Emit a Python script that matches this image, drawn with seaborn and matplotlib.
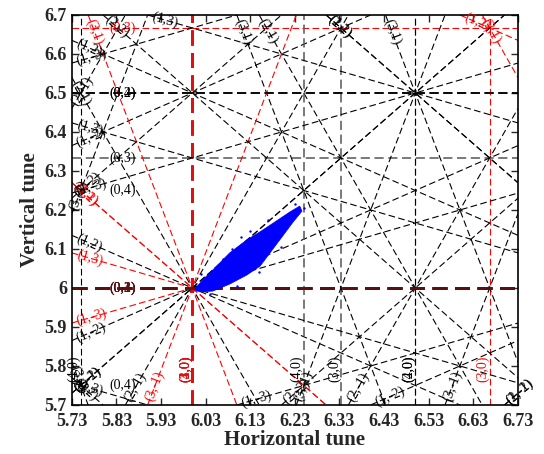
import math
import matplotlib
matplotlib.use('Agg')
import matplotlib.pyplot as plt
import seaborn as sns

# axis ranges and ticks
qx_range = [5.73, 6.73]
qy_range = [5.7, 6.7]
x_ticks = [5.73, 5.83, 5.93, 6.03, 6.13, 6.23, 6.33, 6.43, 6.53, 6.63, 6.73]
x_tick_labels = ['5.73', '5.83', '5.93', '6.03', '6.13', '6.23', '6.33', '6.43', '6.53', '6.63', '6.73']
y_ticks = [5.7, 5.8, 5.9, 6.0, 6.1, 6.2, 6.3, 6.4, 6.5, 6.6, 6.7]
y_tick_labels = ['5.7', '5.8', '5.9', '6', '6.1', '6.2', '6.3', '6.4', '6.5', '6.6', '6.7']

# resonance coefficients (m, n) for m*Qx + n*Qy = p, orders 1..4
res_m = [1, 0, 2, 0, 1, 1, 3, 0, 2, 2, 1, 1, 4, 3, 3, 2, 2, 1, 1, 0]
res_n = [0, 1, 0, 2, 1, -1, 0, 3, 1, -1, 2, -2, 0, 1, -1, 2, -2, 3, -3, 4]

# lines drawn in red (reduced m, n, p) and the Qx up to which they are red
red_m = [1, 3, 0, 1, 3, 3, 1, 1, 2, 1]
red_n = [0, 0, 3, 1, 1, -1, 3, -3, 1, 2]
red_p = [6, 20, 20, 12, 24, 12, 24, -12, 20, 20]
red_upto = [7, 7, 7, 7, 7, 7, 6.0, 6.0, 7, 7]

# grey lines
grey_m = [4, 3, 0]
grey_n = [0, 0, 3]
grey_p = [25, 19, 19]

# beam footprint outline
blob_qx = [6.010, 6.028, 6.046, 6.084, 6.122, 6.152, 6.185, 6.219, 6.241,
           6.246, 6.226, 6.196, 6.152, 6.122, 6.084, 6.046, 6.017, 6.006]
blob_qy = [6.003, 6.026, 6.046, 6.090, 6.123, 6.144, 6.169, 6.195, 6.210,
           6.197, 6.169, 6.123, 6.056, 6.033, 6.010, 5.992, 5.990, 5.995]
stray_qx = [6.02, 6.04, 6.07, 6.10, 6.13, 6.17, 6.20, 6.23, 6.06, 6.11, 6.15, 6.09, 6.25, 6.03]
stray_qy = [6.035, 5.985, 6.075, 6.005, 6.145, 6.175, 6.105, 6.215, 6.060, 6.130, 6.040, 6.100, 6.205, 6.015]

sns.set_theme(style='ticks')
plt.rcParams['font.family'] = ['Liberation Serif', 'DejaVu Serif']

fig = plt.figure(figsize=(5.44, 4.54), dpi=100)
ax = fig.add_axes([0.132, 0.108, 0.820, 0.859])

red_lines = {k: u for k, u in zip(zip(red_m, red_n, red_p), red_upto)}
grey_set = set(zip(grey_m, grey_n, grey_p))


def reduce(m, n, p):
    g = math.gcd(math.gcd(abs(m), abs(n)), abs(p))
    return (m // g, n // g, p // g)


def segment(m, n, p):
    pts = []
    eps = 1e-9
    if n != 0:
        for x in qx_range:
            y = (p - m * x) / n
            if qy_range[0] - eps <= y <= qy_range[1] + eps:
                pts.append((x, y))
    if m != 0:
        for y in qy_range:
            x = (p - n * y) / m
            if qx_range[0] - eps <= x <= qx_range[1] + eps:
                pts.append((x, y))
    pts = sorted(set((round(a, 9), round(b, 9)) for a, b in pts))
    if len(pts) < 2:
        return None
    return pts[0], pts[-1]


def style(key):
    color, lw = 'black', 0.8
    if key in grey_set:
        color, lw = '#555555', 1.1
    if key == (1, 0, 6):
        color, lw = '#dd1111', 1.8
    elif key == (0, 1, 6):
        color, lw = '#5a1010', 1.8
    elif key in red_lines:
        color = 'red'
    if key == (0, 2, 13):
        lw = 1.1
    return color, lw


for m, n in zip(res_m, res_n):
    corners = [m * x + n * y for x in qx_range for y in qy_range]
    for p in range(math.ceil(min(corners)), math.floor(max(corners)) + 1):
        seg = segment(m, n, p)
        if seg is None:
            continue
        key = reduce(m, n, p)
        color, lw = style(key)
        (x0, y0), (x1, y1) = seg
        label_only = (m == 0 and n == 4 and key != (0, 1, 6) and key != (0, 2, 13))
        if not label_only:
            upto = red_lines.get(key, 99)
            if key in red_lines and upto < x1:
                # red up to Qx = upto, black afterwards
                ys = (p - m * upto) / n
                ax.plot([x0, upto], [y0, ys], color='red', lw=lw, dashes=(6, 3), zorder=2)
                ax.plot([upto, x1], [ys, y1], color='black', lw=lw, dashes=(6, 3), zorder=2)
            else:
                ax.plot([x0, x1], [y0, y1], color=color, lw=lw, dashes=(6, 3), zorder=2)

        # label at the start of the line
        dx, dy = x1 - x0, y1 - y0
        L = math.hypot(dx, dy)
        ux, uy = dx / L, dy / L
        if n == 0:
            off, va = 0.06, 'bottom'
        elif m == 0:
            off, va = 0.085, 'center'
        else:
            off, va = 0.012, 'center'
        ang = math.degrees(math.atan2(dy * 390 / 446, dx))
        tcol = 'black' if color == '#555555' else color
        ax.text(x0 + ux * off, y0 + uy * off, f'({m},{n})', color=tcol,
                fontsize=10, ha='left', va=va, rotation=ang, rotation_mode='anchor', zorder=3)

# beam footprint
ax.fill(blob_qx, blob_qy, color='#0000ff', lw=0.5, zorder=4)
sns.scatterplot(x=stray_qx, y=stray_qy, color='#0000ff', s=3, linewidth=0, ax=ax, zorder=4)

ax.set_xlim(qx_range)
ax.set_ylim(qy_range)
ax.set_xticks(x_ticks)
ax.set_xticklabels(x_tick_labels, fontweight='bold', fontsize=13)
ax.set_yticks(y_ticks)
ax.set_yticklabels(y_tick_labels, fontweight='bold', fontsize=13)
ax.tick_params(direction='in', top=True, right=True, length=5, width=1)
ax.tick_params(axis='x', pad=6)
for s in ax.spines.values():
    s.set_linewidth(1.2)
    s.set_color('black')
ax.set_xlabel('Horizontal tune', fontweight='bold', fontsize=15, labelpad=0)
ax.set_ylabel('Vertical tune', fontweight='bold', fontsize=15, labelpad=3)

fig.savefig('out.png', dpi=100)
